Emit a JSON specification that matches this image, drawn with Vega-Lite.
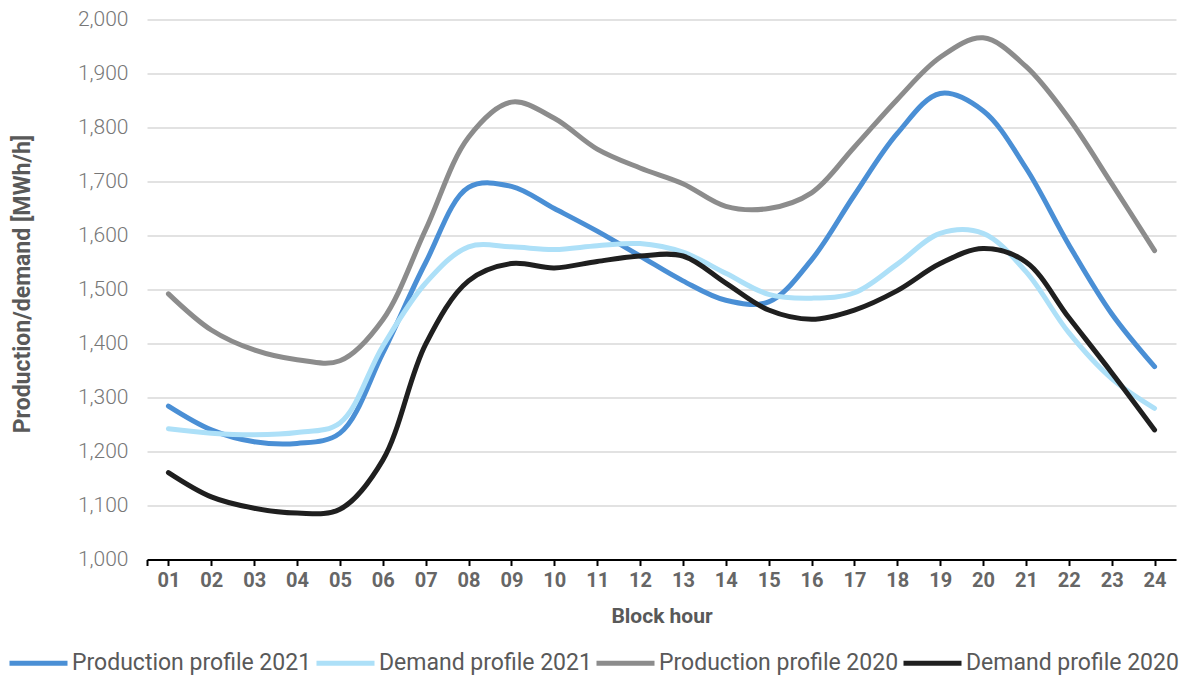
{
  "$schema": "https://vega.github.io/schema/vega-lite/v6.json",
  "width": 1029,
  "height": 540,
  "autosize": "none",
  "padding": {"left": 147, "top": 19.5, "right": 17, "bottom": 116.5},
  "background": "white",
  "config": {
    "font": "Roboto",
    "view": {"stroke": null}
  },
  "data": {
    "values": [
      {"hour": "01", "series": "Production profile 2021", "value": 1284},
      {"hour": "02", "series": "Production profile 2021", "value": 1240},
      {"hour": "03", "series": "Production profile 2021", "value": 1218},
      {"hour": "04", "series": "Production profile 2021", "value": 1215},
      {"hour": "05", "series": "Production profile 2021", "value": 1234},
      {"hour": "06", "series": "Production profile 2021", "value": 1382},
      {"hour": "07", "series": "Production profile 2021", "value": 1550},
      {"hour": "08", "series": "Production profile 2021", "value": 1689},
      {"hour": "09", "series": "Production profile 2021", "value": 1691},
      {"hour": "10", "series": "Production profile 2021", "value": 1650},
      {"hour": "11", "series": "Production profile 2021", "value": 1608},
      {"hour": "12", "series": "Production profile 2021", "value": 1562},
      {"hour": "13", "series": "Production profile 2021", "value": 1516},
      {"hour": "14", "series": "Production profile 2021", "value": 1480},
      {"hour": "15", "series": "Production profile 2021", "value": 1477},
      {"hour": "16", "series": "Production profile 2021", "value": 1555},
      {"hour": "17", "series": "Production profile 2021", "value": 1675},
      {"hour": "18", "series": "Production profile 2021", "value": 1789},
      {"hour": "19", "series": "Production profile 2021", "value": 1863},
      {"hour": "20", "series": "Production profile 2021", "value": 1831},
      {"hour": "21", "series": "Production profile 2021", "value": 1725},
      {"hour": "22", "series": "Production profile 2021", "value": 1583},
      {"hour": "23", "series": "Production profile 2021", "value": 1455},
      {"hour": "24", "series": "Production profile 2021", "value": 1357},

      {"hour": "01", "series": "Demand profile 2021", "value": 1242},
      {"hour": "02", "series": "Demand profile 2021", "value": 1234},
      {"hour": "03", "series": "Demand profile 2021", "value": 1231},
      {"hour": "04", "series": "Demand profile 2021", "value": 1235},
      {"hour": "05", "series": "Demand profile 2021", "value": 1253},
      {"hour": "06", "series": "Demand profile 2021", "value": 1395},
      {"hour": "07", "series": "Demand profile 2021", "value": 1512},
      {"hour": "08", "series": "Demand profile 2021", "value": 1579},
      {"hour": "09", "series": "Demand profile 2021", "value": 1579},
      {"hour": "10", "series": "Demand profile 2021", "value": 1574},
      {"hour": "11", "series": "Demand profile 2021", "value": 1581},
      {"hour": "12", "series": "Demand profile 2021", "value": 1585},
      {"hour": "13", "series": "Demand profile 2021", "value": 1569},
      {"hour": "14", "series": "Demand profile 2021", "value": 1530},
      {"hour": "15", "series": "Demand profile 2021", "value": 1491},
      {"hour": "16", "series": "Demand profile 2021", "value": 1484},
      {"hour": "17", "series": "Demand profile 2021", "value": 1494},
      {"hour": "18", "series": "Demand profile 2021", "value": 1547},
      {"hour": "19", "series": "Demand profile 2021", "value": 1604},
      {"hour": "20", "series": "Demand profile 2021", "value": 1604},
      {"hour": "21", "series": "Demand profile 2021", "value": 1533},
      {"hour": "22", "series": "Demand profile 2021", "value": 1420},
      {"hour": "23", "series": "Demand profile 2021", "value": 1335},
      {"hour": "24", "series": "Demand profile 2021", "value": 1280},

      {"hour": "01", "series": "Production profile 2020", "value": 1492},
      {"hour": "02", "series": "Production profile 2020", "value": 1425},
      {"hour": "03", "series": "Production profile 2020", "value": 1388},
      {"hour": "04", "series": "Production profile 2020", "value": 1370},
      {"hour": "05", "series": "Production profile 2020", "value": 1368},
      {"hour": "06", "series": "Production profile 2020", "value": 1444},
      {"hour": "07", "series": "Production profile 2020", "value": 1611},
      {"hour": "08", "series": "Production profile 2020", "value": 1782},
      {"hour": "09", "series": "Production profile 2020", "value": 1847},
      {"hour": "10", "series": "Production profile 2020", "value": 1817},
      {"hour": "11", "series": "Production profile 2020", "value": 1760},
      {"hour": "12", "series": "Production profile 2020", "value": 1725},
      {"hour": "13", "series": "Production profile 2020", "value": 1696},
      {"hour": "14", "series": "Production profile 2020", "value": 1654},
      {"hour": "15", "series": "Production profile 2020", "value": 1650},
      {"hour": "16", "series": "Production profile 2020", "value": 1679},
      {"hour": "17", "series": "Production profile 2020", "value": 1764},
      {"hour": "18", "series": "Production profile 2020", "value": 1852},
      {"hour": "19", "series": "Production profile 2020", "value": 1930},
      {"hour": "20", "series": "Production profile 2020", "value": 1966},
      {"hour": "21", "series": "Production profile 2020", "value": 1913},
      {"hour": "22", "series": "Production profile 2020", "value": 1817},
      {"hour": "23", "series": "Production profile 2020", "value": 1696},
      {"hour": "24", "series": "Production profile 2020", "value": 1572},

      {"hour": "01", "series": "Demand profile 2020", "value": 1161},
      {"hour": "02", "series": "Demand profile 2020", "value": 1116},
      {"hour": "03", "series": "Demand profile 2020", "value": 1095},
      {"hour": "04", "series": "Demand profile 2020", "value": 1086},
      {"hour": "05", "series": "Demand profile 2020", "value": 1093},
      {"hour": "06", "series": "Demand profile 2020", "value": 1184},
      {"hour": "07", "series": "Demand profile 2020", "value": 1399},
      {"hour": "08", "series": "Demand profile 2020", "value": 1516},
      {"hour": "09", "series": "Demand profile 2020", "value": 1548},
      {"hour": "10", "series": "Demand profile 2020", "value": 1540},
      {"hour": "11", "series": "Demand profile 2020", "value": 1552},
      {"hour": "12", "series": "Demand profile 2020", "value": 1562},
      {"hour": "13", "series": "Demand profile 2020", "value": 1562},
      {"hour": "14", "series": "Demand profile 2020", "value": 1512},
      {"hour": "15", "series": "Demand profile 2020", "value": 1462},
      {"hour": "16", "series": "Demand profile 2020", "value": 1445},
      {"hour": "17", "series": "Demand profile 2020", "value": 1462},
      {"hour": "18", "series": "Demand profile 2020", "value": 1498},
      {"hour": "19", "series": "Demand profile 2020", "value": 1548},
      {"hour": "20", "series": "Demand profile 2020", "value": 1576},
      {"hour": "21", "series": "Demand profile 2020", "value": 1551},
      {"hour": "22", "series": "Demand profile 2020", "value": 1448},
      {"hour": "23", "series": "Demand profile 2020", "value": 1346},
      {"hour": "24", "series": "Demand profile 2020", "value": 1240}
    ]
  },
  "mark": {
    "type": "line",
    "interpolate": "catmull-rom",
    "strokeWidth": 5,
    "strokeCap": "round",
    "strokeJoin": "round"
  },
  "encoding": {
    "x": {
      "field": "hour",
      "type": "ordinal",
      "scale": {"paddingInner": 0, "paddingOuter": 0},
      "axis": {
        "title": "Block hour",
        "titleFont": "Roboto",
        "titleFontSize": 21,
        "titleFontWeight": "bold",
        "titleColor": "#595959",
        "titleBaseline": "middle",
        "titleY": 57,
        "labelAngle": 0,
        "labelFont": "Roboto",
        "labelFontSize": 20,
        "labelFontWeight": "bold",
        "labelColor": "#666666",
        "labelPadding": 5,
        "labelBaseline": "top",
        "bandPosition": 0,
        "tickExtra": true,
        "ticks": true,
        "tickSize": 6,
        "tickWidth": 2,
        "tickColor": "#000000",
        "domain": true,
        "domainColor": "#000000",
        "domainWidth": 2,
        "grid": false
      }
    },
    "y": {
      "field": "value",
      "type": "quantitative",
      "scale": {"domain": [1000, 2000], "nice": false, "zero": false},
      "axis": {
        "title": "Production/demand [MWh/h]",
        "titleFont": "Roboto",
        "titleFontSize": 23,
        "titleFontWeight": "bold",
        "titleColor": "#595959",
        "titleAngle": 270,
        "titleAlign": "center",
        "titleBaseline": "middle",
        "titleX": -125,
        "titleY": 264,
        "values": [1000, 1100, 1200, 1300, 1400, 1500, 1600, 1700, 1800, 1900, 2000],
        "format": ",.0f",
        "labelFont": "Roboto",
        "labelFontSize": 21,
        "labelFontWeight": 300,
        "labelColor": "#777777",
        "labelPadding": 19,
        "ticks": false,
        "domain": false,
        "grid": true,
        "gridColor": "#d9d9d9",
        "gridWidth": 1.5
      }
    },
    "color": {
      "field": "series",
      "type": "nominal",
      "sort": null,
      "scale": {
        "domain": ["Production profile 2021", "Demand profile 2021", "Production profile 2020", "Demand profile 2020"],
        "range": ["#4a8fd5", "#ade0f8", "#8c8c8c", "#1f1f1f"]
      },
      "legend": {
        "title": null,
        "orient": "none",
        "direction": "horizontal",
        "legendX": -140,
        "legendY": 612,
        "symbolType": "stroke",
        "symbolSize": 3364,
        "symbolStrokeWidth": 5,
        "labelFont": "Roboto",
        "labelFontSize": 23,
        "labelColor": "#595959",
        "labelOffset": 2,
        "columnPadding": -6,
        "labelLimit": 400
      }
    }
  }
}
